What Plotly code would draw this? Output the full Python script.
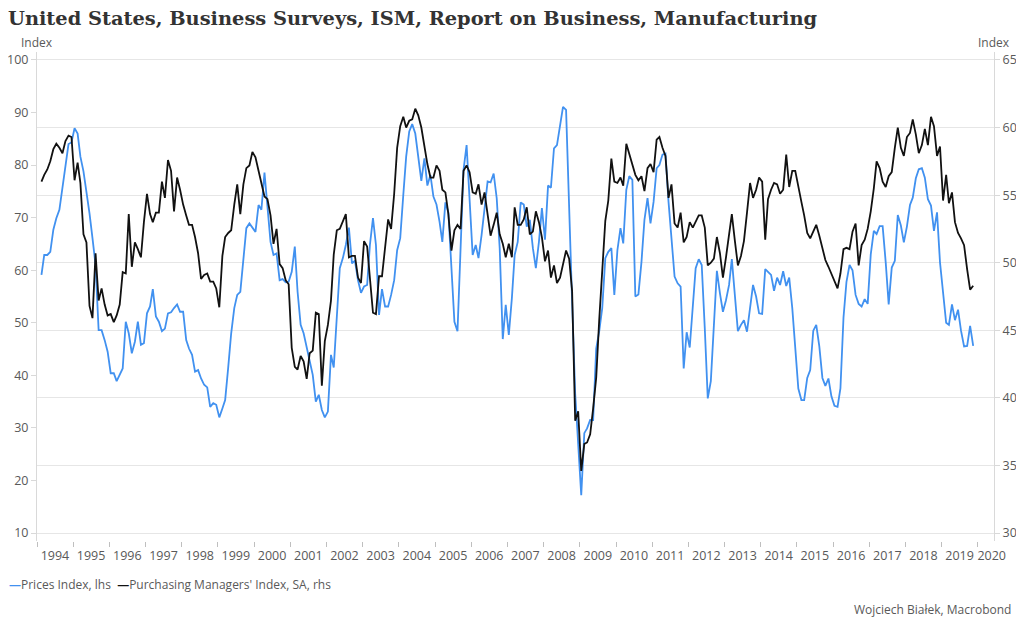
import pandas as pd
import plotly.graph_objects as go

# ---- data (monthly, Jan 1994 - Oct 2019) ----
start_month = "1994-01-15"
n_months = 310

prices_index = [
    59.1, 62.9, 62.9, 63.5, 67.7, 69.9, 71.5, 76.0, 80.5, 84.0, 84.3, 87.0,   # 1994
    86.0, 81.6, 78.8, 75.0, 70.8, 66.1, 61.0, 48.6, 48.6, 46.7, 44.5, 40.4,   # 1995
    40.4, 38.9, 40.1, 41.3, 50.2, 48.0, 44.2, 46.4, 50.2, 45.8, 46.1, 51.8,   # 1996
    53.1, 56.4, 51.2, 50.2, 48.4, 48.9, 51.8, 52.0, 52.8, 53.5, 52.1, 52.1,   # 1997
    46.7, 45.1, 43.9, 40.7, 41.0, 39.4, 38.2, 37.7, 34.0, 34.7, 34.4, 32.0,   # 1998
    33.7, 35.3, 41.5, 48.0, 52.8, 55.3, 55.9, 62.9, 68.0, 68.9, 68.1, 67.3,   # 1999
    72.4, 71.5, 78.6, 72.4, 65.4, 62.9, 63.2, 58.1, 58.3, 57.7, 57.8, 59.7,   # 2000
    64.5, 55.9, 49.6, 48.0, 45.5, 43.2, 40.1, 35.0, 36.3, 33.4, 32.0, 33.1,   # 2001
    43.9, 41.5, 51.5, 60.4, 62.3, 64.8, 68.1, 61.3, 61.8, 58.1, 55.7, 56.9,   # 2002
    57.2, 64.8, 69.9, 64.8, 51.5, 56.4, 53.1, 53.1, 55.3, 58.1, 63.8, 66.1,   # 2003
    74.3, 81.6, 86.4, 87.8, 86.0, 81.0, 77.0, 81.3, 76.1, 78.1, 74.0, 72.5,   # 2004
    69.2, 65.4, 72.9, 71.0, 61.0, 50.2, 48.4, 63.8, 79.1, 83.8, 74.6, 62.9,   # 2005
    64.8, 62.3, 66.7, 71.8, 76.9, 76.7, 78.4, 73.7, 64.2, 46.9, 53.4, 47.7,   # 2006
    54.7, 62.9, 65.4, 72.9, 72.5, 68.3, 69.6, 64.2, 60.4, 65.4, 71.8, 65.8,   # 2007
    76.1, 75.7, 83.2, 83.8, 87.6, 91.1, 90.5, 73.7, 54.0, 36.5, 26.0, 17.2,   # 2008
    29.0, 29.9, 31.5, 31.5, 45.1, 48.3, 52.8, 62.3, 63.5, 64.2, 55.3, 63.8,   # 2009
    68.0, 65.1, 75.3, 77.9, 77.2, 55.0, 55.4, 61.6, 69.6, 73.7, 68.9, 73.0,   # 2010
    79.4, 80.0, 82.0, 82.2, 73.0, 65.4, 58.8, 57.5, 56.9, 41.3, 48.2, 45.3,   # 2011
    53.7, 60.4, 62.1, 61.0, 48.9, 35.6, 38.9, 48.9, 59.9, 55.6, 52.1, 54.3,   # 2012
    57.2, 62.1, 54.7, 48.4, 49.6, 50.5, 48.3, 52.8, 57.2, 55.0, 51.8, 51.7,   # 2013
    60.2, 59.7, 59.1, 56.1, 58.6, 57.2, 59.8, 57.0, 58.6, 52.8, 45.1, 37.5,   # 2014
    35.3, 35.3, 39.5, 41.0, 48.5, 49.6, 45.5, 39.5, 38.0, 39.4, 36.0, 34.2,   # 2015
    34.0, 37.5, 51.0, 57.8, 61.0, 60.0, 55.3, 53.6, 53.1, 54.5, 53.6, 63.0,   # 2016
    67.5, 66.9, 68.4, 68.4, 61.5, 53.5, 60.5, 61.8, 70.5, 68.5, 65.3, 68.3,   # 2017
    72.4, 73.8, 77.5, 79.2, 79.4, 77.6, 73.5, 72.3, 67.5, 71.0, 61.5, 56.0,   # 2018
    50.0, 49.6, 53.5, 50.5, 52.5, 48.5, 45.5, 45.6, 49.4, 45.6,               # 2019
]

pmi_sa = [
    56.0, 56.5, 56.9, 57.5, 58.4, 58.8, 58.5, 58.1, 59.0, 59.4, 59.3, 56.1,   # 1994
    57.4, 55.9, 52.1, 51.5, 46.8, 45.9, 50.7, 47.2, 48.1, 46.9, 46.1, 46.2,   # 1995
    45.6, 46.1, 46.9, 49.3, 49.2, 53.6, 49.7, 51.5, 51.0, 50.4, 53.0, 55.1,   # 1996
    53.6, 53.0, 53.7, 53.7, 56.0, 54.8, 57.6, 56.8, 53.8, 56.3, 55.4, 54.3,   # 1997
    53.5, 52.8, 52.8, 51.9, 50.7, 48.8, 49.1, 49.2, 48.6, 48.6, 48.1, 46.7,   # 1998
    50.5, 51.9, 52.2, 52.4, 54.3, 55.8, 53.6, 55.8, 57.0, 57.2, 58.2, 57.8,   # 1999
    56.8, 55.8, 54.9, 54.7, 53.5, 51.4, 52.5, 49.9, 49.6, 48.7, 48.4, 43.7,   # 2000
    42.3, 42.1, 43.1, 42.7, 41.4, 43.3, 43.5, 46.3, 46.2, 40.9, 44.2, 45.4,   # 2001
    47.2, 50.6, 52.4, 52.5, 53.1, 53.6, 50.4, 50.5, 50.5, 48.9, 48.5, 51.6,   # 2002
    51.2, 48.7, 46.3, 46.2, 49.0, 49.0, 51.1, 53.2, 52.5, 55.1, 58.5, 60.1,   # 2003
    60.8, 60.0, 60.5, 60.6, 61.4, 60.9, 60.0, 58.6, 57.3, 56.3, 56.3, 57.2,   # 2004
    56.8, 55.4, 55.2, 53.6, 50.9, 52.4, 52.8, 52.5, 56.8, 57.2, 56.7, 55.2,   # 2005
    55.1, 55.8, 54.3, 55.2, 53.7, 52.0, 52.8, 53.7, 52.1, 51.4, 50.4, 51.4,   # 2006
    50.4, 54.1, 52.8, 52.8, 53.2, 54.1, 52.1, 52.3, 53.8, 53.0, 51.9, 50.1,   # 2007
    50.9, 48.9, 49.8, 48.5, 48.9, 49.9, 50.9, 50.3, 47.9, 38.3, 39.0, 34.6,   # 2008
    36.6, 36.7, 37.3, 39.2, 41.5, 45.7, 49.4, 53.1, 54.6, 57.7, 56.0, 55.9,   # 2009
    56.3, 55.7, 58.8, 58.1, 57.3, 56.5, 56.1, 56.4, 55.3, 57.0, 57.3, 56.7,   # 2010
    59.1, 59.3, 58.5, 57.9, 54.8, 55.8, 52.9, 52.6, 53.7, 51.5, 51.9, 53.0,   # 2011
    52.6, 53.1, 53.5, 53.5, 52.6, 49.8, 50.0, 50.3, 51.9, 50.7, 48.9, 50.4,   # 2012
    52.1, 53.6, 51.6, 49.8, 50.5, 51.6, 53.7, 55.9, 54.8, 55.4, 56.3, 56.0,   # 2013
    51.7, 54.7, 55.4, 55.9, 55.8, 55.1, 55.4, 58.0, 55.6, 56.8, 56.8, 55.5,   # 2014
    54.5, 53.5, 52.2, 51.8, 52.3, 52.8, 52.0, 51.0, 50.2, 49.7, 49.2, 48.6,   # 2015
    48.1, 49.2, 51.0, 51.1, 51.0, 52.3, 52.9, 49.8, 51.3, 51.7, 52.5, 53.8,   # 2016
    55.5, 57.5, 57.0, 56.0, 55.6, 56.4, 56.7, 58.5, 60.0, 58.5, 57.9, 59.3,   # 2017
    59.6, 60.6, 59.5, 58.1, 58.7, 59.9, 58.7, 60.8, 60.1, 57.9, 58.6, 54.6,   # 2018
    56.5, 54.4, 55.2, 53.0, 52.2, 51.8, 51.3, 49.5, 48.0, 48.3,               # 2019
]

years = list(range(1994, 2021))
year_labels = [str(y) for y in years]
left_ticks = [10, 20, 30, 40, 50, 60, 70, 80, 90, 100]
right_ticks = [30, 35, 40, 45, 50, 55, 60, 65]

dates = pd.date_range(start_month, periods=n_months, freq="MS") + pd.Timedelta(days=14)

BLUE = "#4191f0"
BLACK = "#111111"
GREY_TXT = "#595959"
AXIS_LINE = "#d9d9d9"
FONT = "Open Sans, Noto Sans, sans-serif"

fig = go.Figure()
fig.add_trace(go.Scatter(x=dates, y=prices_index, name="Prices Index, lhs",
                         mode="lines", line=dict(color=BLUE, width=1.8), yaxis="y"))
fig.add_trace(go.Scatter(x=dates, y=pmi_sa, name="Purchasing Managers' Index, SA, rhs",
                         mode="lines", line=dict(color=BLACK, width=1.8), yaxis="y2"))

label_pos = [f"{y}-07-01" for y in years[:-1]] + ["2020-05-20"]
minor_pos = [f"{y}-01-01" for y in years]

# page body adds an 8px offset; figure coordinates = screenshot coordinates - 8
OFF = 8
W, H = 1024 - OFF, 626 - OFF
L, R, T, B = 37 - OFF, W - (994 - OFF), 52 - OFF, H - (541 - OFF)
pw, ph = W - L - R, H - T - B

def px_x(px):
    return (px - OFF - L) / pw

def px_y(py):
    return (H - B - (py - OFF)) / ph

fig.update_layout(
    width=W, height=H,
    margin=dict(l=L, r=R, t=T, b=B, autoexpand=False),
    paper_bgcolor="white", plot_bgcolor="white",
    showlegend=False,
    font=dict(family=FONT, size=12.5, color=GREY_TXT),
    title=dict(text="<b>United States, Business Surveys, ISM, Report on Business, Manufacturing</b>",
               font=dict(family="DejaVu Serif, serif", size=19.4, color="#333333"),
               x=0, xanchor="left", xref="container",
               y=1 - (18 - OFF) / H, yanchor="middle", yref="container"),
    xaxis=dict(type="date", range=["1994-01-01", "2020-06-12"], automargin=False,
               tickmode="array", tickvals=label_pos, ticktext=year_labels,
               ticks="", showgrid=False, zeroline=False, showline=False,
               ticklabelstandoff=5,
               tickfont=dict(family=FONT, size=12.5, color=GREY_TXT),
               minor=dict(tickmode="array", tickvals=minor_pos, ticks="outside",
                          ticklen=5, tickwidth=1, tickcolor="#bfbfbf", showgrid=False)),
    yaxis=dict(range=[8.48, 101.52], tickmode="array", tickvals=left_ticks, automargin=False,
               showgrid=False, zeroline=False, showline=True, linecolor=AXIS_LINE,
               ticks="outside", ticklen=5, tickcolor=AXIS_LINE,
               tickfont=dict(family=FONT, size=12.5, color=GREY_TXT)),
    yaxis2=dict(range=[29.41, 65.59], tickmode="array", tickvals=right_ticks, automargin=False,
                overlaying="y", side="right",
                showgrid=True, gridcolor="#e6e6e6", gridwidth=1, zeroline=False,
                showline=True, linecolor=AXIS_LINE,
                ticks="outside", ticklen=5, tickcolor=AXIS_LINE,
                tickfont=dict(family=FONT, size=12.5, color=GREY_TXT)),
    annotations=[
        dict(text="Index", xref="paper", yref="paper", x=px_x(37), y=px_y(42),
             xanchor="center", yanchor="middle", showarrow=False,
             font=dict(family=FONT, size=12, color=GREY_TXT)),
        dict(text="Index", xref="paper", yref="paper", x=px_x(994), y=px_y(42),
             xanchor="center", yanchor="middle", showarrow=False,
             font=dict(family=FONT, size=12, color=GREY_TXT)),
        dict(text=f"<span style='color:{BLUE}'><b>—</b></span>Prices Index, lhs  "
                  f"<span style='color:{BLACK}'><b>—</b></span>Purchasing Managers' Index, SA, rhs",
             xref="paper", yref="paper", x=px_x(7), y=px_y(584),
             xanchor="left", yanchor="middle", showarrow=False,
             font=dict(family=FONT, size=12, color=GREY_TXT)),
        dict(text="Wojciech Białek, Macrobond", xref="paper", yref="paper",
             x=px_x(1013), y=px_y(609), xanchor="right", yanchor="middle",
             showarrow=False, font=dict(family=FONT, size=12, color=GREY_TXT)),
    ],
)

fig.write_html("out.html")
